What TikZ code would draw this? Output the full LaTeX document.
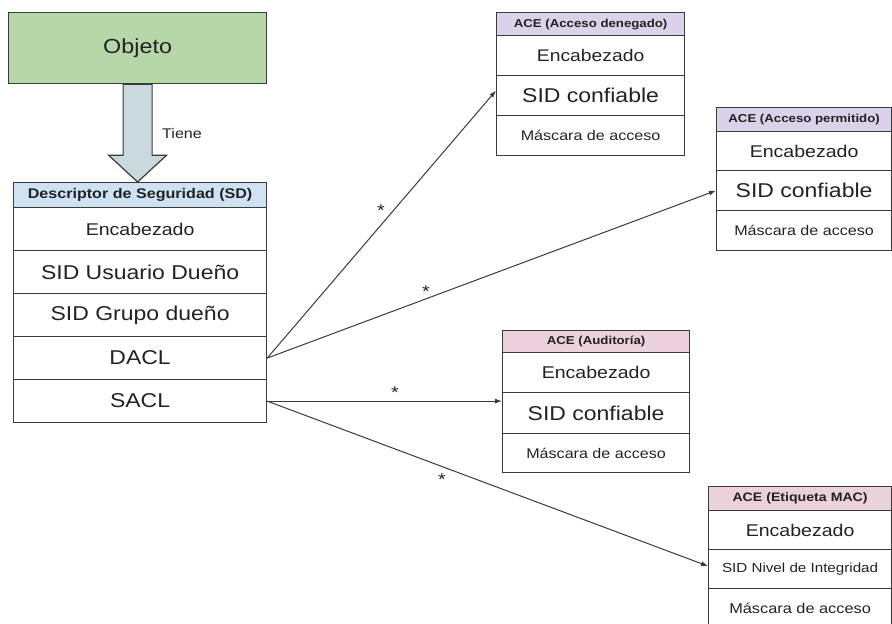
\documentclass[tikz,border=0pt]{standalone}
\usepackage{fontspec}
\setmainfont[FakeStretch=1.15]{Liberation Sans}
\usetikzlibrary{arrows.meta,calc}

\definecolor{edgec}{HTML}{3A3A3A}
\definecolor{inkc}{HTML}{222222}
\definecolor{objfill}{HTML}{B6D7A8}
\definecolor{sdhead}{HTML}{CFE2F3}
\definecolor{denyhead}{HTML}{D9D2E9}
\definecolor{audhead}{HTML}{EAD1DC}
\definecolor{hasfill}{HTML}{C9D9DD}

\newcommand\fsz[1]{\fontsize{#1}{#1}\selectfont}

\tikzset{
  cell/.style={draw=edgec, line width=1.2pt, inner sep=0pt, anchor=north west,
               text=inkc, align=center},
  headcell/.style={cell, font=\fsz{11.5}\bfseries},
  conn/.style={draw=edgec, line width=1pt, -{Latex[length=7pt,width=5pt]}},
  mult/.style={text=inkc, font=\fsz{17}, inner sep=0pt},
}

\begin{document}
\begin{tikzpicture}[x=1pt,y=-1pt]
\useasboundingbox (0,0) rectangle (892,624);

% Object
\node[cell, fill=objfill, minimum width=258pt, minimum height=71pt, font=\fsz{20.3}]
  (obj) at (8,12) {Objeto};

% Security descriptor
\node[headcell, fill=sdhead, font=\fsz{14}\bfseries, minimum width=253pt, minimum height=25pt]
  (sdh) at (13,182) {Descriptor de Seguridad (SD)};
\node[cell, minimum width=253pt, minimum height=43pt, font=\fsz{17}] (sd1) at (13,207) {Encabezado};
\node[cell, minimum width=253pt, minimum height=43pt, font=\fsz{20}] (sd2) at (13,250) {SID Usuario Dueño};
\node[cell, minimum width=253pt, minimum height=43pt, font=\fsz{20}] (sd3) at (13,293) {SID Grupo dueño};
\node[cell, minimum width=253pt, minimum height=43pt, font=\fsz{20}] (dacl) at (13,336) {DACL};
\node[cell, minimum width=253pt, minimum height=43pt, font=\fsz{20}] (sacl) at (13,379) {SACL};

% "Tiene" block arrow
\draw[draw=edgec, line width=1.2pt, fill=hasfill, line join=miter]
  ($(obj.south)+(-14.5,0)$) -- ($(obj.south)+(14.5,0)$) --
  ($(obj.south)+(14.5,71)$) -- ($(obj.south)+(29,71)$) --
  (obj.south |- sdh.north) --
  ($(obj.south)+(-29,71)$) -- ($(obj.south)+(-14.5,71)$) -- cycle;
\node[anchor=west, text=inkc, font=\fsz{14}, inner sep=0pt] (tiene) at (162,133) {Tiene};

% ACE: access denied
\node[headcell, fill=denyhead, minimum width=188pt, minimum height=23pt] (dnh) at (496,12) {ACE (Acceso denegado)};
\node[cell, minimum width=188pt, minimum height=40pt, font=\fsz{16.8}] (dn1) at (496,35) {Encabezado};
\node[cell, minimum width=188pt, minimum height=40pt, font=\fsz{20}] (dn2) at (496,75) {SID confiable};
\node[cell, minimum width=188pt, minimum height=40pt, font=\fsz{14}] (dn3) at (496,115) {Máscara de acceso};

% ACE: access allowed
\node[headcell, fill=denyhead, minimum width=175pt, minimum height=24pt] (pmh) at (716,107) {ACE (Acceso permitido)};
\node[cell, minimum width=175pt, minimum height=39pt, font=\fsz{17}] (pm1) at (716,131) {Encabezado};
\node[cell, minimum width=175pt, minimum height=40pt, font=\fsz{20}] (pm2) at (716,170) {SID confiable};
\node[cell, minimum width=175pt, minimum height=40pt, font=\fsz{14}] (pm3) at (716,210) {Máscara de acceso};

% ACE: audit
\node[headcell, fill=audhead, minimum width=187pt, minimum height=22pt] (auh) at (502,330) {ACE (Auditoría)};
\node[cell, minimum width=187pt, minimum height=40pt, font=\fsz{17}] (au1) at (502,352) {Encabezado};
\node[cell, minimum width=187pt, minimum height=41pt, font=\fsz{20}] (au2) at (502,392) {SID confiable};
\node[cell, minimum width=187pt, minimum height=39pt, font=\fsz{14}] (au3) at (502,433) {Máscara de acceso};

% ACE: mandatory label
\node[headcell, fill=audhead, font=\fsz{12.3}\bfseries, minimum width=183pt, minimum height=24pt] (mch) at (708,486) {ACE (Etiqueta MAC)};
\node[cell, minimum width=183pt, minimum height=39pt, font=\fsz{17}] (mc1) at (708,510) {Encabezado};
\node[cell, minimum width=183pt, minimum height=39pt, font=\fsz{13.2}] (mc2) at (708,549) {SID Nivel de Integridad};
\node[cell, minimum width=183pt, minimum height=39pt, font=\fsz{14.2}] (mc3) at (708,588) {Máscara de acceso};

% Connectors
\draw[conn] (dacl.east) -- ($(dn2.west)+(0,-5)$);
\draw[conn] (dacl.east) -- (pm2.west);
\draw[conn] (sacl.east) -- (sacl.east -| au2.west);
\draw[conn] (sacl.east) -- ($(mc2.west)+(0,-3)$);

% Multiplicities
\node[mult] (m1) at (381,211) {*};
\node[mult] (m2) at (426,292) {*};
\node[mult] (m3) at (395,393) {*};
\node[mult] (m4) at (442,480) {*};
\end{tikzpicture}
\end{document}
